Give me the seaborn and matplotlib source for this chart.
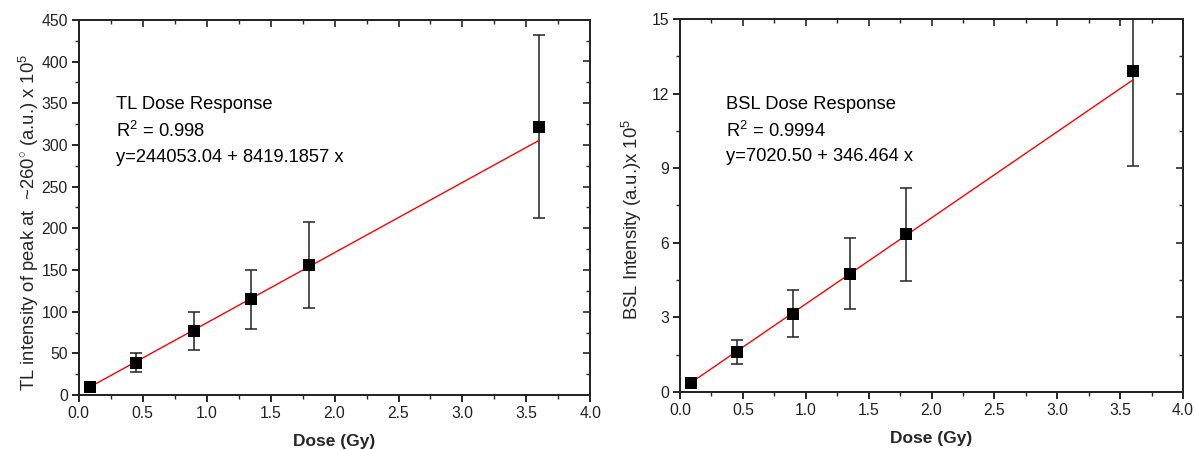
import numpy as np
import pandas as pd
import matplotlib
matplotlib.use("Agg")
import matplotlib.pyplot as plt
import seaborn as sns
from matplotlib.ticker import MultipleLocator

sns.set_theme(style="white")
plt.rcParams['font.family'] = ['Liberation Sans', 'DejaVu Sans']
plt.rcParams['mathtext.fontset'] = 'custom'
plt.rcParams['mathtext.rm'] = 'Liberation Sans'
plt.rcParams['mathtext.it'] = 'Liberation Sans:italic'

# ---- data ----
dose = [0.09, 0.45, 0.9, 1.35, 1.8, 3.6]
tl_vals = [10, 39, 77, 115, 156, 322]
tl_err = [2, 11.5, 23, 35.5, 51, 109.5]
tl_fit = [2.4405304, 84.191857]      # intercept, slope (x10^5)
bsl_vals = [0.37, 1.6, 3.15, 4.75, 6.35, 12.9]
bsl_err = [0.08, 0.48, 0.95, 1.43, 1.87, 3.8]
bsl_fit = [0.0702050, 3.46464]
tl_text = ["TL Dose Response", "R$^{2}$ = 0.998", "y=244053.04 + 8419.1857 x"]
bsl_text = ["BSL Dose Response", "R$^{2}$ = 0.9994", "y=7020.50 + 346.464 x"]

fig = plt.figure(figsize=(11.95, 4.5), dpi=100)
ax1 = fig.add_axes([0.066, 0.122, 0.428, 0.834])
ax2 = fig.add_axes([0.569, 0.129, 0.421, 0.829])


def draw(ax, vals, err, fit, texts, ylim, ymaj, ymin, ylabel, ytxt, xtxt):
    x = np.array(dose)
    ax.errorbar(x, vals, yerr=err, fmt='none', ecolor='#222222', elinewidth=1.1,
                capsize=4, capthick=1.1, zorder=2)
    fitdf = pd.DataFrame({'x': [x[0], x[-1]],
                          'y': [fit[0] + fit[1] * x[0], fit[0] + fit[1] * x[-1]]})
    sns.lineplot(data=fitdf, x='x', y='y', ax=ax, color='#ff0000', linewidth=1.0, zorder=3)
    df = pd.DataFrame({'x': x, 'y': vals})
    sns.scatterplot(data=df, x='x', y='y', ax=ax, marker='s', s=70, color='black',
                    edgecolor='black', linewidth=0, zorder=4)
    ax.set_xlim(0, 4.0)
    ax.set_ylim(*ylim)
    ax.xaxis.set_major_locator(MultipleLocator(0.5))
    ax.xaxis.set_minor_locator(MultipleLocator(0.25))
    ax.yaxis.set_major_locator(MultipleLocator(ymaj))
    ax.yaxis.set_minor_locator(MultipleLocator(ymin))
    ax.xaxis.set_major_formatter(matplotlib.ticker.FormatStrFormatter('%.1f'))
    ax.tick_params(axis='both', which='major', direction='out', length=5, width=1.2,
                   labelsize=11.3, colors='black', labelcolor='#222222', pad=3)
    ax.tick_params(axis='both', which='minor', direction='out', length=3, width=1.0)
    ax.tick_params(axis='both', which='both', bottom=True, left=True)
    for s in ax.spines.values():
        s.set_visible(True)
        s.set_color('black')
        s.set_linewidth(1.3)
    # mirrored top/right inward ticks
    for tw, side in ((ax.twiny(), 'x'), (ax.twinx(), 'y')):
        if side == 'x':
            tw.set_xlim(ax.get_xlim())
            tw.xaxis.set_major_locator(MultipleLocator(0.5))
            tw.xaxis.set_minor_locator(MultipleLocator(0.25))
            tw.tick_params(axis='x', which='both', direction='in', top=True, labeltop=False,
                           bottom=False, width=1.2)
            tw.tick_params(axis='x', which='major', length=5)
            tw.tick_params(axis='x', which='minor', length=3, width=1.0)
        else:
            tw.set_ylim(ax.get_ylim())
            tw.yaxis.set_major_locator(MultipleLocator(ymaj))
            tw.yaxis.set_minor_locator(MultipleLocator(ymin))
            tw.tick_params(axis='y', which='both', direction='in', right=True, labelright=False,
                           left=False, width=1.2)
            tw.tick_params(axis='y', which='major', length=5)
            tw.tick_params(axis='y', which='minor', length=3, width=1.0)
        for s in tw.spines.values():
            s.set_linewidth(1.3)
        tw.grid(False)
    ax.set_xlabel('Dose (Gy)', fontsize=12.5, fontweight='bold', labelpad=9)
    ax.set_ylabel(ylabel, fontsize=13.3)
    ax.grid(False)
    for t, yy in zip(texts, ytxt):
        ax.text(xtxt, yy, t, fontsize=13.2, va='center', ha='left', color='black')


draw(ax1, tl_vals, tl_err, tl_fit, tl_text, (0, 450), 50, 25,
     'TL intensity of peak at  ~260$^{\\circ}$ (a.u.) x 10$^{5}$', [348, 317, 285], 0.29)
draw(ax2, bsl_vals, bsl_err, bsl_fit, bsl_text, (0, 15), 3, 1.5,
     'BSL Intensity (a.u.)x 10$^{5}$', [11.54, 10.5, 9.45], 0.37)
ax1.yaxis.labelpad = 0
ax2.yaxis.labelpad = 5
ax1.yaxis.label.set_y(0.46)
ax2.yaxis.label.set_y(0.462)

fig.savefig('out.png', dpi=100, facecolor='white')
